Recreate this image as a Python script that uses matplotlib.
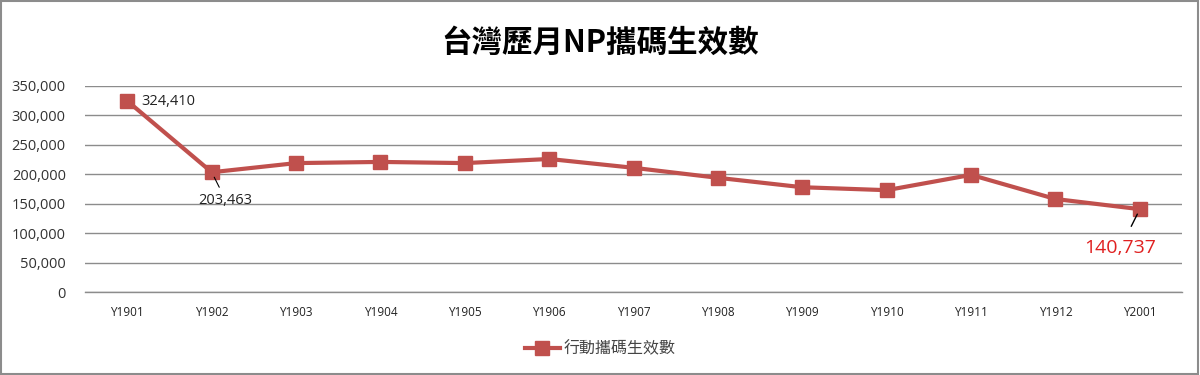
import matplotlib
matplotlib.use("Agg")
import matplotlib.pyplot as plt
from matplotlib.patches import Rectangle

plt.rcParams['font.family'] = ['Open Sans', 'Noto Sans CJK TC', 'DejaVu Sans']

categories = ["Y1901", "Y1902", "Y1903", "Y1904", "Y1905", "Y1906", "Y1907",
              "Y1908", "Y1909", "Y1910", "Y1911", "Y1912", "Y2001"]
values = [324410, 203463, 219000, 221000, 219000, 226000, 211000,
          194000, 178000, 173000, 199000, 158000, 140737]
yticks = [0, 50000, 100000, 150000, 200000, 250000, 300000, 350000]
title = "台灣歷月NP攜碼生效數"
series_name = "行動攜碼生效數"

color = "#C0504D"

fig = plt.figure(figsize=(12, 3.75), dpi=100)
fig.patches.append(Rectangle((0.001, 0.002), 0.997, 0.995, transform=fig.transFigure,
                             fill=False, edgecolor="#8c8c8c", linewidth=1.5))
ax = fig.add_axes([0.071, 0.2213, 0.914, 0.5494])
x = list(range(len(categories)))
ax.plot(x, values, color=color, linewidth=3, marker="s", markersize=10,
        markerfacecolor=color, markeredgecolor=color, label=series_name)
ax.set_xlim(-0.5, len(categories) - 0.5)
ax.set_ylim(0, 350000)
ax.set_yticks(yticks)
ax.set_yticklabels([f"{v:,}" for v in yticks], fontsize=10.5, color="#333333")
ax.set_xticks(x)
ax.set_xticklabels(categories, fontsize=8.5, color="#222222")
ax.tick_params(length=0, pad=10)
ax.tick_params(axis='y', pad=14)
ax.yaxis.grid(True, color="#8c8c8c", linewidth=1)
ax.set_axisbelow(True)
for s in ["top", "right", "left"]:
    ax.spines[s].set_visible(False)
ax.spines["bottom"].set_color("#8c8c8c")
ax.spines["bottom"].set_linewidth(1)

ax.annotate(f"{values[0]:,}", (x[0], values[0]), xytext=(10, 0),
            textcoords="offset points", fontsize=10.5, va="center", ha="left", color="#222222")
ax.annotate(f"{values[1]:,}", (x[1], values[1]), xytext=(10, -20),
            textcoords="offset points", fontsize=10.5, va="center", ha="center", color="#222222",
            arrowprops=dict(arrowstyle="-", color="black", lw=0.8, shrinkA=2, shrinkB=4))
ax.annotate(f"{values[-1]:,}", (x[-1], values[-1]), xytext=(-14, -28),
            textcoords="offset points", fontsize=14, va="center", ha="center", color="#E02020",
            arrowprops=dict(arrowstyle="-", color="black", lw=1, shrinkA=8, shrinkB=4))

fig.text(0.5, 0.885, title, ha="center", va="center", fontsize=22, fontweight="bold",
         family=['Noto Sans CJK TC', 'DejaVu Sans'])
leg = fig.legend(loc="center", bbox_to_anchor=(0.5, 0.07), frameon=False,
                 prop={'family': ['Noto Sans CJK TC', 'DejaVu Sans'], 'size': 11.5},
                 handlelength=2.2, handletextpad=0.2)
for t in leg.get_texts():
    t.set_color("#444444")

fig.savefig("out.png", dpi=100)
